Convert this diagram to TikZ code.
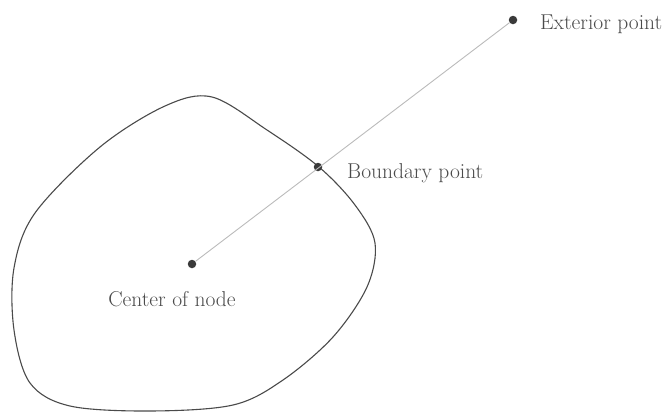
\documentclass[tikz,border=0pt]{standalone}
\usetikzlibrary{calc}
\definecolor{ink}{HTML}{4A4A4A}
\definecolor{ray}{HTML}{BBBBBB}
\definecolor{dotc}{HTML}{3A3A3A}
\tikzset{
  pt/.style={circle,fill=dotc,inner sep=0pt,minimum size=8.5pt},
  lbl/.style={text=ink,font=\fontsize{21.5}{24}\selectfont,inner sep=0pt},
}
\begin{document}
\begin{tikzpicture}[x=1pt,y=-1pt]
\useasboundingbox (0,0) rectangle (665,413);
\draw[ink,line width=1.1pt] plot[smooth cycle,tension=0.55] coordinates {
 (212,97) (267,130) (319,167) (355,205) (375,243) (367,287) (333,337)
 (283,380) (233,405) (150,411) (70,406) (30,383) (14,330) (14,268)
 (35,213) (100,147) (165,106)};
\node[pt] (c) at (192,264) {};
\node[pt] (b) at (318,167) {};
\node[pt] (e) at (513,20) {};
\draw[ray,line width=0.9pt] (c) -- (e);
\node[lbl,anchor=base west] (el) at (540,29) {Exterior point};
\node[lbl,anchor=base west] (bl) at (347,178) {Boundary point};
\node[lbl,anchor=base] (cl) at (172,306) {Center of node};
\end{tikzpicture}
\end{document}
